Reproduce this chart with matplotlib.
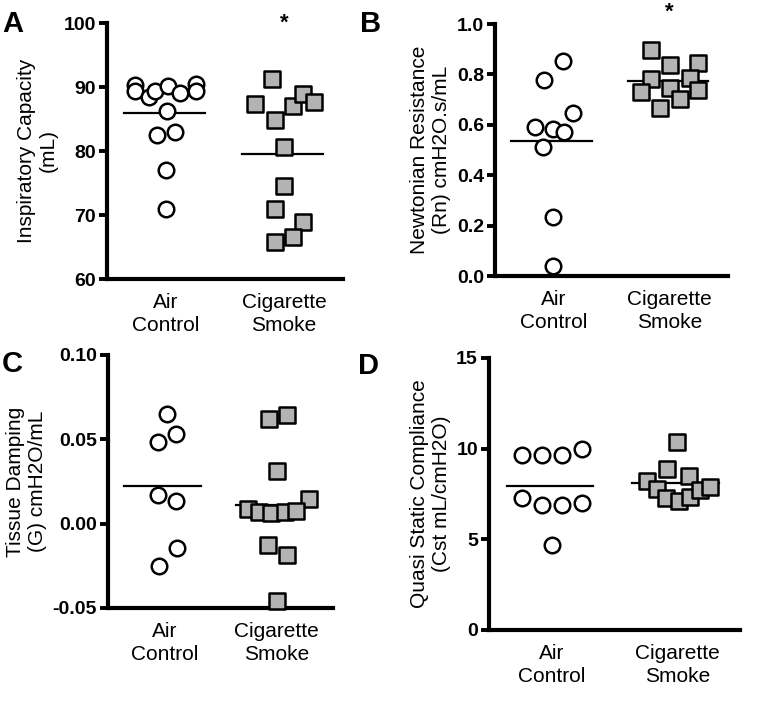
import matplotlib
matplotlib.use("Agg")
import matplotlib.pyplot as plt
import numpy as np

plt.rcParams['font.family'] = ['Liberation Sans', 'DejaVu Sans']

groups = ["Air\nControl", "Cigarette\nSmoke"]

# panel A: inspiratory capacity (mL)
ic_air = [90.3, 89.4, 88.4, 89.4, 86.2, 82.5, 82.9, 77.1, 71.0, 90.1, 89.1, 90.5, 89.4]
ic_air_dx = [-0.26, -0.26, -0.14, -0.09, 0.01, -0.08, 0.08, 0.0, 0.0, 0.02, 0.12, 0.25, 0.25]
ic_cs = [91.2, 87.4, 87.0, 88.9, 87.6, 84.8, 80.7, 74.5, 71.0, 68.9, 66.5, 65.8]
ic_cs_dx = [-0.10, -0.25, 0.08, 0.16, 0.25, -0.08, 0.0, 0.0, -0.08, 0.16, 0.08, -0.08]

# panel B: newtonian resistance
rn_air = [0.852, 0.779, 0.646, 0.593, 0.584, 0.571, 0.511, 0.236, 0.040]
rn_air_dx = [0.08, -0.08, 0.17, -0.16, 0.0, 0.09, -0.09, 0.0, 0.0]
rn_cs = [0.898, 0.838, 0.845, 0.783, 0.785, 0.732, 0.746, 0.739, 0.703, 0.666]
rn_cs_dx = [-0.16, 0.0, 0.24, -0.16, 0.17, -0.25, 0.0, 0.24, 0.09, -0.08]

# panel C: tissue damping
g_air = [0.065, 0.0532, 0.0487, 0.0167, 0.0132, -0.0145, -0.0253]
g_air_dx = [0.02, 0.10, -0.06, -0.06, 0.10, 0.11, -0.05]
g_cs = [0.0621, 0.0645, 0.0313, 0.0147, 0.0086, 0.0072, 0.0063, 0.0067, 0.0078, -0.0125, -0.0184, -0.046]
g_cs_dx = [-0.07, 0.09, 0.0, 0.29, -0.26, -0.16, -0.05, 0.07, 0.17, -0.08, 0.09, 0.0]

# panel D: quasi static compliance
cst_air = [9.63, 9.63, 9.63, 9.98, 7.27, 6.87, 6.87, 6.99, 4.69]
cst_air_dx = [-0.24, -0.08, 0.08, 0.24, -0.24, -0.08, 0.08, 0.24, 0.0]
cst_cs = [10.36, 8.87, 8.47, 8.19, 7.79, 7.27, 7.12, 7.31, 7.73, 7.91]
cst_cs_dx = [0.0, -0.08, 0.09, -0.24, -0.16, -0.09, 0.01, 0.1, 0.18, 0.26]

W, H = 765, 708
fig = plt.figure(figsize=(W / 100, H / 100), dpi=100)


def px_axes(left, top, right, bottom):
    return fig.add_axes([left / W, 1 - bottom / H, (right - left) / W, (bottom - top) / H])


def dot_panel(ax, air, air_dx, cs, cs_dx, ylim, yticks, fmt, ylabel, star=None):
    ax.scatter(np.array(air_dx), air, s=125, marker='o', facecolor='white',
               edgecolor='black', linewidth=1.8, zorder=3, clip_on=False)
    ax.scatter(1 + np.array(cs_dx), cs, s=120, marker='s', facecolor='#b3b3b3',
               edgecolor='black', linewidth=1.8, zorder=3, clip_on=False)
    for i, vals in enumerate([air, cs]):
        m = np.mean(vals)
        ax.plot([i - 0.36, i + 0.33], [m, m], color='black', lw=1.6, zorder=2)
    ax.set_xlim(-0.5, 1.5)
    ax.set_ylim(*ylim)
    ax.set_yticks(yticks)
    ax.set_yticklabels([fmt.format(v) for v in yticks], fontweight='bold', fontsize=14)
    ax.set_xticks([0, 1])
    ax.set_xticklabels(groups, fontsize=15, linespacing=1.25)
    ax.tick_params(axis='x', length=0, pad=10)
    ax.tick_params(axis='y', length=6, width=2.8, pad=2)
    for s in ['top', 'right']:
        ax.spines[s].set_visible(False)
    for s in ['left', 'bottom']:
        ax.spines[s].set_linewidth(3)
    ax.set_ylabel(ylabel, fontsize=15, linespacing=1.2)
    if star is not None:
        ax.text(1, star, '*', ha='center', va='center', fontsize=16,
                fontweight='bold', clip_on=False)


axA = px_axes(107, 23, 343, 279)
dot_panel(axA, ic_air, ic_air_dx, ic_cs, ic_cs_dx, (60, 100), [60, 70, 80, 90, 100],
          "{:.0f}", "Inspiratory Capacity\n(mL)", star=100.0)

axB = px_axes(495, 24, 728, 276)
dot_panel(axB, rn_air, rn_air_dx, rn_cs, rn_cs_dx, (0, 1), [0, 0.2, 0.4, 0.6, 0.8, 1.0],
          "{:.1f}", "Newtonian Resistance\n(Rn) cmH2O.s/mL", star=1.045)

axC = px_axes(108, 355, 333, 608)
dot_panel(axC, g_air, g_air_dx, g_cs, g_cs_dx, (-0.05, 0.10), [-0.05, 0.0, 0.05, 0.10],
          "{:.2f}", "Tissue Damping\n(G) cmH2O/mL")

axD = px_axes(489, 358, 740, 630)
dot_panel(axD, cst_air, cst_air_dx, cst_cs, cst_cs_dx, (0, 15), [0, 5, 10, 15],
          "{:.0f}", "Quasi Static Compliance\n(Cst mL/cmH2O)")

for lab, x, y in [("A", 2, 10), ("B", 360, 10), ("C", 2, 350), ("D", 358, 352)]:
    fig.text(x / W, 1 - y / H, lab, fontsize=21, fontweight='bold', va='top', ha='left')

fig.savefig("out.png", dpi=100)
